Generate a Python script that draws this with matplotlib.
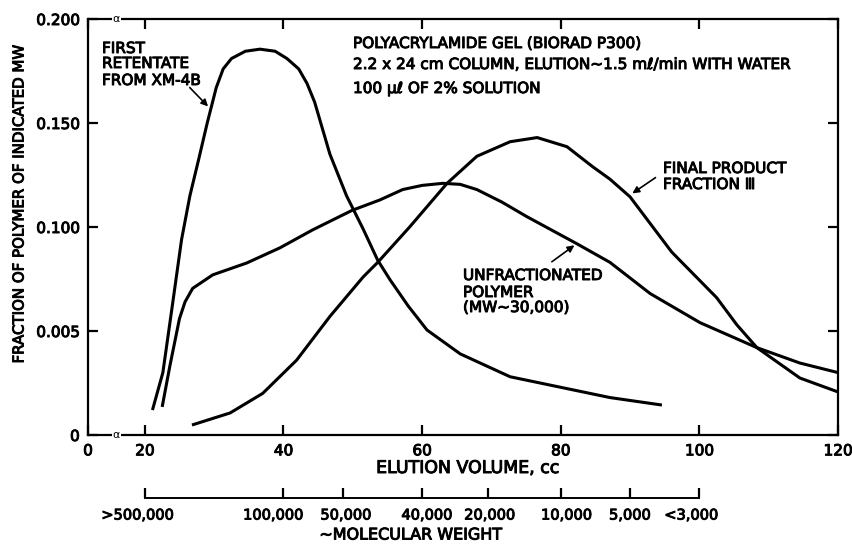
import numpy as np
import matplotlib
matplotlib.use('Agg')
import matplotlib.pyplot as plt
import matplotlib.patheffects as pe

# curve readings (elution volume cc, fraction)
retentate_x = [21.1, 22.6, 24.0, 25.3, 26.5, 27.8, 29.0, 30.3, 31.3, 32.5, 34.5, 36.6,
               38.8, 40.5, 42.2, 43.4, 44.5, 46.7, 49.1, 51.5, 53.6, 55.4, 58.0, 60.7,
               65.5, 72.7, 79.9, 87.1, 94.6]
retentate_y = [0.012, 0.030, 0.063, 0.094, 0.115, 0.133, 0.150, 0.167, 0.176, 0.181,
               0.1845, 0.1855, 0.1845, 0.181, 0.176, 0.169, 0.160, 0.135, 0.115, 0.099,
               0.084, 0.0745, 0.062, 0.0505, 0.039, 0.028, 0.023, 0.018, 0.0144]

unfrac_x = [22.5, 23.6, 25.0, 25.8, 26.9, 29.8, 34.7, 39.5, 44.2, 49.9, 53.9, 57.2,
            60.0, 63.0, 65.5, 67.9, 71.5, 75.1, 82.3, 87.1, 92.9, 100.1, 108.3, 114.5, 120]
unfrac_y = [0.0135, 0.033, 0.056, 0.064, 0.0705, 0.077, 0.0827, 0.090, 0.0986, 0.108,
            0.113, 0.118, 0.120, 0.121, 0.1205, 0.118, 0.112, 0.105, 0.092, 0.083,
            0.068, 0.054, 0.042, 0.0346, 0.030]

final_x = [26.8, 32.3, 37.0, 41.9, 46.7, 51.5, 53.6, 58.2, 63.6, 67.9, 72.7, 76.6,
           80.9, 84.6, 87.1, 90.0, 96.0, 102.5, 105.4, 108.3, 114.5, 120]
final_y = [0.0048, 0.0106, 0.020, 0.036, 0.057, 0.076, 0.083, 0.100, 0.121, 0.134,
           0.141, 0.143, 0.1386, 0.129, 0.123, 0.1145, 0.088, 0.066, 0.053, 0.042,
           0.0274, 0.0207]

x_ticks = [11.8, 20, 40, 60, 80, 100, 120]
x_labels = ['0', '20', '40', '60', '80', '100', '120']
y_ticks = [0, 0.05, 0.10, 0.15, 0.20]
y_labels = ['0', '0.005', '0.100', '0.150', '0.200']

mw_pos = [20, 40, 48.6, 60, 69.5, 80, 90, 100]
mw_labels = ['>500,000', '100,000', '50,000', '40,000', '20,000', '10,000', '5,000', '<3,000']
mw_shift = [-7, -10, 3, 5, 2, 6, 0, -8]  # label nudges, pixels

plt.rcParams['font.family'] = ['DejaVu Sans']
plt.rcParams['xtick.major.size'] = 7
plt.rcParams['ytick.major.size'] = 7
plt.rcParams['xtick.major.width'] = 1.6
plt.rcParams['ytick.major.width'] = 1.6
plt.rcParams['xtick.direction'] = 'in'
plt.rcParams['ytick.direction'] = 'in'
plt.rcParams['xtick.top'] = True
plt.rcParams['ytick.right'] = True
fs = 11
W, H = 852, 544
ink = [pe.withStroke(linewidth=0.7, foreground='black')]

def fx(px):
  return px / W

def fy(py):
  return 1 - py / H

fig = plt.figure(figsize=(8.52, 5.44), dpi=100)
ax = fig.add_axes([fx(88), fy(435), 750 / W, 416 / H])

for xs, ys in [(retentate_x, retentate_y), (unfrac_x, unfrac_y), (final_x, final_y)]:
  ax.plot(xs, ys, color='black', lw=2.2, solid_capstyle='butt')

ax.set_xlim(11.8, 120)
ax.set_ylim(0, 0.2)
ax.set_xticks(x_ticks)
ax.set_xticklabels(x_labels, path_effects=ink)
ax.set_yticks(y_ticks)
ax.set_yticklabels(y_labels, path_effects=ink)
ax.tick_params(labelsize=fs, pad=6, colors='black')
for s in ax.spines.values():
  s.set_linewidth(1.6)

# axis break marks
for yy in [0, 0.2]:
  ax.text(15.9, yy, 'α', ha='center', va='center', fontsize=8,
          bbox=dict(fc='white', ec='none', pad=0.5))

fig.text(fx(468), fy(468), 'ELUTION VOLUME, cc', fontsize=12.5, ha='center', va='center',
         path_effects=ink)
fig.text(fx(19), fy(204), 'FRACTION OF POLYMER OF INDICATED MW', fontsize=10.8,
         rotation=90, ha='center', va='center', path_effects=ink)

def lines(px, baselines, rows):
  for py, row in zip(baselines, rows):
    fig.text(fx(px), fy(py), row, fontsize=fs, ha='left', va='baseline', path_effects=ink)

lines(102, [53, 68, 85], ['FIRST', 'RETENTATE', 'FROM XM-4B'])
lines(353, [48, 69, 93], ['POLYACRYLAMIDE GEL (BIORAD P300)',
                          '2.2 x 24 cm COLUMN, ELUTION~1.5 mℓ/min WITH WATER',
                          '100 μℓ OF 2% SOLUTION'])
lines(663, [173, 189], ['FINAL PRODUCT', 'FRACTION Ⅲ'])
lines(463, [280, 297, 312], ['UNFRACTIONATED', 'POLYMER', '(MW~30,000)'])

arrow = dict(arrowstyle='-|>', color='black', lw=1.2, mutation_scale=10)
ax.annotate('', xy=(29.4, 0.157), xytext=(26.2, 0.168), arrowprops=arrow)
ax.annotate('', xy=(90.0, 0.1154), xytext=(94.0, 0.1245), arrowprops=arrow)
ax.annotate('', xy=(82.3, 0.092), xytext=(78.4, 0.0825), arrowprops=arrow)

# molecular weight scale
ax2 = fig.add_axes([fx(88), fy(498), 750 / W, 0.0])
ax2.set_xlim(ax.get_xlim())
ax2.set_yticks([])
for k in ['top', 'left', 'right']:
  ax2.spines[k].set_visible(False)
ax2.spines['bottom'].set_bounds(20, 100)
ax2.spines['bottom'].set_linewidth(1.4)
ax2.set_xticks(mw_pos)
ax2.set_xticklabels([])
ax2.tick_params(axis='x', top=False, colors='black')
for pos, lab, dx in zip(mw_pos, mw_labels, mw_shift):
  ax2.annotate(lab, xy=(pos, 0), xycoords=('data', 'axes fraction'), xytext=(dx, -17),
               textcoords='offset pixels', ha='center', va='center', fontsize=10.5,
               path_effects=ink)
fig.text(fx(411), fy(535), '~MOLECULAR WEIGHT', fontsize=11.5, ha='center', va='center',
         path_effects=ink)

fig.savefig('out.png', dpi=100)
